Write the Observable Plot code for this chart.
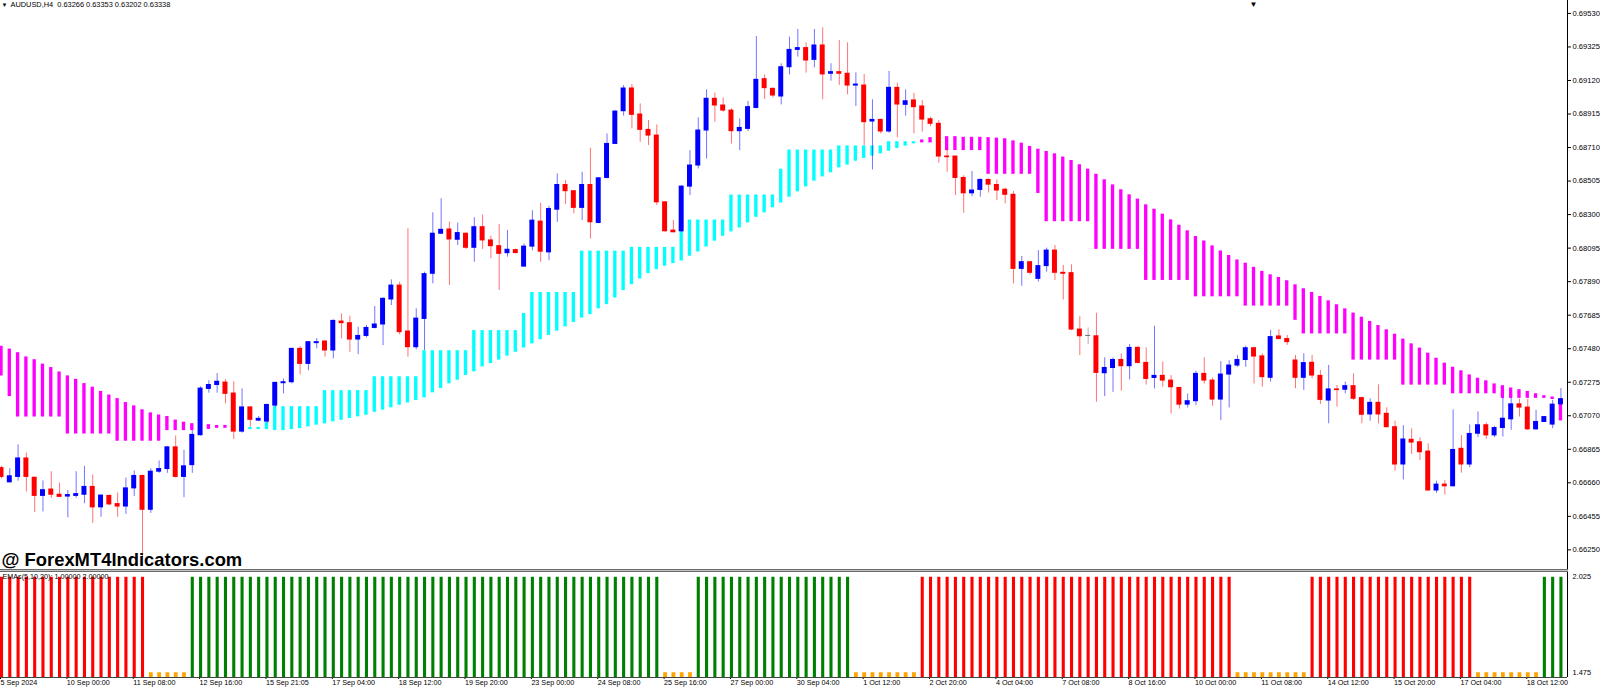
<!DOCTYPE html>
<html><head><meta charset="utf-8">
<script src="https://cdn.jsdelivr.net/npm/d3@7"></script>
<script src="https://cdn.jsdelivr.net/npm/@observablehq/plot@0.6"></script>
<style>
html,body{margin:0;padding:0;background:#fff;}
#wrap{position:relative;width:1600px;height:688px;overflow:hidden;background:#fff;}
svg{display:block;}
.sep{width:1568px;height:3px;background:linear-gradient(#6a6a6a 0 1px,#c4c4c4 1px 2px,#6a6a6a 2px 3px);}
</style></head><body><div id="wrap"></div>
<script>
const open=[0.66750,0.66663,0.66696,0.66809,0.66691,0.66580,0.66619,0.66587,0.66576,0.66580,
0.66587,0.66635,0.66510,0.66580,0.66530,0.66515,0.66626,0.66702,0.66495,0.66728,
0.66744,0.66877,0.66696,0.66768,0.66951,0.67234,0.67258,0.67273,0.67206,0.66973,
0.67121,0.67040,0.67034,0.67132,0.67269,0.67275,0.67479,0.67387,0.67514,0.67524,
0.67469,0.67646,0.67636,0.67536,0.67558,0.67607,0.67628,0.67781,0.67866,0.67585,
0.67489,0.67662,0.67938,0.68183,0.68209,0.68146,0.68183,0.68097,0.68223,0.68142,
0.68107,0.68064,0.68083,0.67982,0.68104,0.68257,0.68069,0.68330,0.68481,0.68443,
0.68341,0.68481,0.68249,0.68524,0.68732,0.68932,0.69071,0.68912,0.68818,0.68783,
0.68375,0.68202,0.68198,0.68471,0.68600,0.68814,0.69008,0.68967,0.68936,0.68810,
0.68824,0.68952,0.69128,0.69069,0.69022,0.69201,0.69307,0.69318,0.69246,0.69334,
0.69161,0.69171,0.69161,0.69089,0.69089,0.68869,0.68879,0.68808,0.69075,0.68971,
0.68998,0.68961,0.68883,0.68855,0.68655,0.68655,0.68524,0.68430,0.68451,0.68512,
0.68481,0.68452,0.68421,0.67968,0.68009,0.67907,0.67985,0.68080,0.67944,0.67942,
0.67597,0.67558,0.67556,0.67330,0.67362,0.67411,0.67373,0.67485,0.67393,0.67301,
0.67314,0.67285,0.67240,0.67138,0.67159,0.67326,0.67285,0.67169,0.67322,0.67377,
0.67411,0.67483,0.67433,0.67302,0.67555,0.67539,0.67408,0.67302,0.67394,0.67314,
0.67163,0.67231,0.67229,0.67251,0.67178,0.67078,0.67149,0.67082,0.67000,0.66772,
0.66923,0.66908,0.66851,0.66613,0.66649,0.66639,0.66868,0.66772,0.66960,0.67012,
0.66950,0.66995,0.67048,0.67140,0.67120,0.66987,0.67032,0.67016,0.67140];
const high=[0.66761,0.66746,0.66892,0.66842,0.66695,0.66672,0.66728,0.66659,0.66613,0.66728,
0.66761,0.66707,0.66585,0.66585,0.66598,0.66689,0.66733,0.66707,0.66746,0.66794,
0.66881,0.66946,0.66859,0.66979,0.67247,0.67284,0.67328,0.67291,0.67278,0.67234,
0.67125,0.67066,0.67142,0.67275,0.67295,0.67483,0.67493,0.67524,0.67542,0.67528,
0.67656,0.67693,0.67679,0.67611,0.67622,0.67738,0.67791,0.67901,0.67887,0.68213,
0.67724,0.67948,0.68311,0.68397,0.68254,0.68248,0.68187,0.68281,0.68297,0.68168,
0.68240,0.68203,0.68090,0.68120,0.68324,0.68369,0.68351,0.68549,0.68508,0.68447,
0.68559,0.68706,0.68526,0.68793,0.68934,0.69089,0.69095,0.68977,0.68875,0.68848,
0.68379,0.68263,0.68477,0.68691,0.68891,0.69063,0.69044,0.69014,0.68946,0.68885,
0.68991,0.69389,0.69154,0.69073,0.69222,0.69385,0.69432,0.69350,0.69432,0.69442,
0.69222,0.69365,0.69350,0.69167,0.69157,0.69002,0.68883,0.69175,0.69103,0.69063,
0.69042,0.68998,0.68895,0.68875,0.68702,0.68656,0.68538,0.68563,0.68518,0.68518,
0.68512,0.68462,0.68441,0.68044,0.68012,0.68080,0.68095,0.68111,0.67989,0.67993,
0.67676,0.67607,0.67697,0.67424,0.67424,0.67448,0.67505,0.67495,0.67485,0.67617,
0.67399,0.67316,0.67244,0.67203,0.67342,0.67424,0.67301,0.67401,0.67407,0.67438,
0.67495,0.67489,0.67449,0.67592,0.67596,0.67561,0.67439,0.67449,0.67439,0.67347,
0.67378,0.67255,0.67276,0.67327,0.67184,0.67174,0.67259,0.67119,0.67037,0.67010,
0.66990,0.66935,0.66898,0.66670,0.66674,0.67106,0.66949,0.67014,0.67093,0.67026,
0.67005,0.67181,0.67179,0.67171,0.67171,0.67103,0.67066,0.67164,0.67236];
const low=[0.66685,0.66659,0.66670,0.66604,0.66478,0.66482,0.66565,0.66569,0.66445,0.66565,
0.66532,0.66412,0.66449,0.66521,0.66449,0.66467,0.66576,0.66205,0.66473,0.66718,
0.66718,0.66690,0.66569,0.66718,0.66946,0.67208,0.67208,0.67143,0.66925,0.66964,
0.67001,0.67034,0.67024,0.67122,0.67203,0.67265,0.67320,0.67346,0.67479,0.67428,
0.67418,0.67540,0.67458,0.67444,0.67546,0.67601,0.67499,0.67744,0.67564,0.67428,
0.67473,0.67469,0.67877,0.68179,0.67866,0.68111,0.68087,0.68009,0.68087,0.68030,
0.67836,0.68040,0.68059,0.67977,0.68079,0.68008,0.68018,0.68253,0.68361,0.68304,
0.68263,0.68151,0.68243,0.68518,0.68728,0.68902,0.68824,0.68742,0.68722,0.68355,
0.68192,0.68188,0.68192,0.68416,0.68579,0.68640,0.68865,0.68926,0.68732,0.68691,
0.68808,0.68946,0.69004,0.69014,0.68971,0.69154,0.69263,0.69165,0.69197,0.69002,
0.69116,0.69089,0.69032,0.68961,0.68722,0.68573,0.68793,0.68797,0.68769,0.68902,
0.68793,0.68804,0.68838,0.68614,0.68559,0.68416,0.68308,0.68410,0.68406,0.68432,
0.68385,0.68366,0.67876,0.67862,0.67931,0.67887,0.67948,0.67897,0.67778,0.67591,
0.67438,0.67505,0.67152,0.67187,0.67213,0.67220,0.67289,0.67387,0.67258,0.67234,
0.67244,0.67081,0.67111,0.67118,0.67132,0.67264,0.67128,0.67040,0.67118,0.67366,
0.67366,0.67264,0.67245,0.67276,0.67535,0.67500,0.67235,0.67225,0.67296,0.67139,
0.67021,0.67123,0.67204,0.67163,0.67021,0.67037,0.67021,0.66996,0.66731,0.66678,
0.66833,0.66796,0.66609,0.66596,0.66586,0.66633,0.66719,0.66752,0.66936,0.66926,
0.66936,0.66940,0.66981,0.67062,0.66981,0.66981,0.67028,0.66991,0.67134];
const close=[0.66696,0.66700,0.66809,0.66696,0.66580,0.66615,0.66587,0.66574,0.66585,0.66591,
0.66635,0.66510,0.66582,0.66528,0.66515,0.66626,0.66702,0.66495,0.66728,0.66744,
0.66877,0.66696,0.66761,0.66953,0.67236,0.67258,0.67278,0.67204,0.66973,0.67121,
0.67045,0.67051,0.67136,0.67271,0.67275,0.67479,0.67387,0.67520,0.67520,0.67469,
0.67650,0.67636,0.67536,0.67558,0.67607,0.67628,0.67785,0.67866,0.67581,0.67489,
0.67664,0.67936,0.68183,0.68207,0.68148,0.68187,0.68097,0.68223,0.68142,0.68107,
0.68060,0.68085,0.68065,0.68104,0.68263,0.68073,0.68334,0.68481,0.68443,0.68341,
0.68481,0.68253,0.68522,0.68732,0.68930,0.69071,0.68910,0.68818,0.68783,0.68375,
0.68198,0.68192,0.68471,0.68600,0.68814,0.69008,0.68967,0.68936,0.68810,0.68830,
0.68957,0.69124,0.69073,0.69028,0.69201,0.69307,0.69318,0.69242,0.69334,0.69157,
0.69171,0.69161,0.69089,0.69095,0.68865,0.68879,0.68808,0.69075,0.68973,0.68993,
0.68957,0.68881,0.68855,0.68655,0.68651,0.68524,0.68430,0.68447,0.68512,0.68483,
0.68447,0.68421,0.67968,0.68009,0.67944,0.67985,0.68080,0.67944,0.67938,0.67597,
0.67556,0.67558,0.67332,0.67362,0.67411,0.67373,0.67485,0.67393,0.67295,0.67314,
0.67285,0.67244,0.67138,0.67159,0.67326,0.67285,0.67169,0.67322,0.67377,0.67411,
0.67483,0.67432,0.67306,0.67551,0.67539,0.67520,0.67302,0.67392,0.67316,0.67167,
0.67231,0.67227,0.67251,0.67174,0.67076,0.67149,0.67078,0.67000,0.66772,0.66925,
0.66906,0.66847,0.66613,0.66649,0.66639,0.66861,0.66772,0.66959,0.67012,0.66950,
0.66995,0.67052,0.67140,0.67120,0.66987,0.67032,0.67062,0.67138,0.67171];
const emaSmooth=[0.67491,0.67474,0.67452,0.67426,0.67409,0.67382,0.67361,0.67334,0.67310,0.67289,
0.67263,0.67241,0.67215,0.67193,0.67171,0.67147,0.67127,0.67103,0.67084,0.67071,
0.67062,0.67040,0.67027,0.67018,0.67016,0.67012,0.67007,0.67007,0.67001,0.67001,
0.66989,0.66989,0.66989,0.66983,0.66983,0.66989,0.66995,0.67006,0.67016,0.67024,
0.67036,0.67046,0.67057,0.67067,0.67077,0.67095,0.67108,0.67122,0.67138,0.67152,
0.67167,0.67183,0.67214,0.67240,0.67269,0.67291,0.67320,0.67342,0.67373,0.67393,
0.67414,0.67438,0.67462,0.67488,0.67513,0.67539,0.67565,0.67591,0.67617,0.67644,
0.67671,0.67692,0.67727,0.67753,0.67794,0.67839,0.67875,0.67910,0.67943,0.67967,
0.67988,0.68004,0.68020,0.68049,0.68075,0.68106,0.68141,0.68171,0.68198,0.68222,
0.68253,0.68287,0.68314,0.68345,0.68375,0.68410,0.68443,0.68473,0.68508,0.68534,
0.68559,0.68589,0.68606,0.68630,0.68647,0.68661,0.68675,0.68691,0.68708,0.68722,
0.68736,0.68753,0.68767,0.68773,0.68773,0.68773,0.68769,0.68769,0.68769,0.68767,
0.68764,0.68760,0.68747,0.68733,0.68713,0.68696,0.68682,0.68668,0.68648,0.68627,
0.68601,0.68574,0.68543,0.68509,0.68478,0.68448,0.68417,0.68391,0.68356,0.68329,
0.68299,0.68264,0.68231,0.68197,0.68162,0.68135,0.68105,0.68074,0.68046,0.68019,
0.67999,0.67974,0.67949,0.67928,0.67912,0.67892,0.67867,0.67843,0.67820,0.67796,
0.67769,0.67745,0.67720,0.67694,0.67669,0.67643,0.67618,0.67592,0.67565,0.67535,
0.67506,0.67480,0.67449,0.67418,0.67388,0.67363,0.67341,0.67316,0.67296,0.67280,
0.67261,0.67250,0.67236,0.67226,0.67215,0.67201,0.67189,0.67181,0.67171];
const emaStep=[0.67317,0.67191,0.67066,0.67066,0.67066,0.67066,0.67066,0.67066,0.66962,0.66962,
0.66962,0.66962,0.66962,0.66962,0.66918,0.66918,0.66918,0.66918,0.66918,0.66918,
0.66983,0.66983,0.66983,0.66983,0.66983,0.66990,0.66997,0.66997,0.66996,0.66997,
0.66995,0.66995,0.67024,0.67122,0.67122,0.67122,0.67122,0.67122,0.67122,0.67220,
0.67220,0.67220,0.67220,0.67220,0.67220,0.67305,0.67305,0.67305,0.67305,0.67305,
0.67305,0.67464,0.67464,0.67464,0.67464,0.67464,0.67464,0.67587,0.67587,0.67587,
0.67587,0.67587,0.67587,0.67692,0.67820,0.67820,0.67820,0.67820,0.67820,0.67820,
0.68073,0.68073,0.68073,0.68073,0.68073,0.68073,0.68096,0.68096,0.68096,0.68096,
0.68096,0.68096,0.68263,0.68263,0.68263,0.68263,0.68263,0.68263,0.68416,0.68416,
0.68416,0.68416,0.68416,0.68416,0.68573,0.68691,0.68691,0.68691,0.68691,0.68691,
0.68691,0.68716,0.68716,0.68716,0.68716,0.68716,0.68716,0.68742,0.68742,0.68742,
0.68742,0.68742,0.68742,0.68695,0.68695,0.68695,0.68695,0.68695,0.68695,0.68550,
0.68550,0.68550,0.68550,0.68550,0.68550,0.68433,0.68260,0.68260,0.68260,0.68260,
0.68260,0.68260,0.68091,0.68091,0.68091,0.68091,0.68091,0.68091,0.67901,0.67901,
0.67901,0.67901,0.67901,0.67901,0.67801,0.67801,0.67801,0.67801,0.67801,0.67801,
0.67744,0.67744,0.67744,0.67744,0.67744,0.67744,0.67657,0.67574,0.67574,0.67574,
0.67574,0.67574,0.67574,0.67414,0.67414,0.67414,0.67414,0.67414,0.67414,0.67261,
0.67261,0.67261,0.67261,0.67261,0.67261,0.67208,0.67208,0.67208,0.67208,0.67208,
0.67208,0.67180,0.67180,0.67180,0.67180,0.67180,0.67180,0.67173,0.67042];
// lower window: runs of [signal value, colour name, bar count]
const histRuns=[[2,"red",18],[1.5,"orange",5],[2,"green",57],[1.5,"orange",4],[2,"green",19],
[1.5,"orange",8],[2,"red",38],[1.5,"orange",9],[2,"red",20],[1.5,"orange",8],[2,"green",3]];
const timeLabels=["5 Sep 2024","10 Sep 00:00","11 Sep 08:00","12 Sep 16:00","15 Sep 21:05","17 Sep 04:00",
"18 Sep 12:00","19 Sep 20:00","23 Sep 00:00","24 Sep 08:00","25 Sep 16:00","27 Sep 00:00","30 Sep 04:00",
"1 Oct 12:00","2 Oct 20:00","4 Oct 04:00","7 Oct 08:00","8 Oct 16:00","10 Oct 00:00","11 Oct 08:00",
"14 Oct 12:00","15 Oct 20:00","17 Oct 04:00","18 Oct 12:00"];
const timeLabelBars=[0,8,16,24,32,40,48,56,64,72,80,88,96,104,112,120,128,136,144,152,160,168,176,184];
const priceTicks=[0.69530,0.69325,0.69120,0.68915,0.68710,0.68505,0.68300,0.68095,0.67890,0.67685,
0.67480,0.67275,0.67070,0.66865,0.66660,0.66455,0.66250];
const lowerTicks=[2.025,1.475];
const headerText="AUDUSD,H4  0.63266 0.63353 0.63202 0.63338";
const indicatorText="EMAs(5,10,20): 1.00000 2.00000";
const watermark="@ ForexMT4Indicators.com";

const colorMap={red:"#ff0000",green:"#008000",orange:"#ffa500"};
const bars=open.map((o,i)=>({i,o,h:high[i],l:low[i],c:close[i],
  col: close[i]>o ? "#0000ff" : close[i]<o ? "#ff0000" : "#6e6e6e"}));
const ind=emaSmooth.map((s,i)=>({i,s,t:emaStep[i],col: s>emaStep[i] ? "#ff00ff" : "#00ffff"}));
const hist=[]; {let k=0; for(const [v,c,n] of histRuns){for(let j=0;j<n;j++) hist.push({i:k++,v,col:colorMap[c],c});}}
const labelMap=new Map(timeLabelBars.map((b,j)=>[b,timeLabels[j]]));

const xDomain=[-0.1206,188.79];
const font="'Liberation Sans', Arial, sans-serif";
const wrap=document.getElementById("wrap");

const main=Plot.plot({
  width:1600,height:569,marginLeft:0,marginRight:33,marginTop:0,marginBottom:0,
  x:{domain:xDomain,axis:null,label:null},
  y:{domain:[0.66130,0.69609],axis:null,label:null},
  color:{type:"identity"},
  style:{fontFamily:font,background:"#fff",color:"#000"},
  marks:[
    Plot.rect(ind,{x1:d=>d.i-0.2,x2:d=>d.i+0.2,y1:"s",y2:"t",fill:"col",insetTop:-0.6,insetBottom:-0.6}),
    Plot.ruleX(bars,{x:"i",y1:"l",y2:"h",stroke:"col",strokeOpacity:0.55,strokeWidth:1}),
    Plot.rect(bars,{x1:d=>d.i-0.3,x2:d=>d.i+0.3,y1:"o",y2:"c",fill:"col",insetTop:-0.5,insetBottom:-0.5}),
    Plot.axisY({anchor:"right",label:null,ticks:priceTicks,tickFormat:d=>d.toFixed(5),tickSize:3,tickPadding:2,fontSize:7.6,fill:"#000",stroke:"#000"}),
    Plot.ruleX([xDomain[1]],{stroke:"#000"}),
    Plot.text(["\u25BC"],{frameAnchor:"top-left",dx:1,dy:2,fontSize:6,lineAnchor:"top",textAnchor:"start",fill:"#000"}),
    Plot.text([headerText],{frameAnchor:"top-left",dx:10,dy:1.5,fontSize:7.4,lineAnchor:"top",textAnchor:"start",fill:"#000"}),
    Plot.text(["\u25BC"],{frameAnchor:"top-left",dx:1249,dy:1,fontSize:8,lineAnchor:"top",textAnchor:"start",fill:"#000"}),
    Plot.text([watermark],{frameAnchor:"bottom-left",dx:1,dy:-4,fontSize:18.4,fontWeight:"bold",lineAnchor:"bottom",textAnchor:"start",fill:"#000"})
  ]
});
wrap.appendChild(main);
const sep=document.createElement("div"); sep.className="sep"; wrap.appendChild(sep);

const lower=Plot.plot({
  width:1600,height:116,marginLeft:0,marginRight:33,marginTop:0,marginBottom:11,
  x:{domain:xDomain,axis:null,label:null},
  y:{domain:[1.475,2.025],axis:null,label:null},
  color:{type:"identity"},
  style:{fontFamily:font,background:"#fff",color:"#000"},
  marks:[
    Plot.ruleX(hist.filter(d=>d.c!=="orange"),{x:"i",y1:1.475,y2:"v",stroke:"col",strokeWidth:3.1}),
    Plot.ruleX(hist.filter(d=>d.c==="orange"),{x:"i",y1:1.475,y2:"v",stroke:"col",strokeWidth:3.8}),
    Plot.text([indicatorText],{frameAnchor:"top-left",dx:2,dy:1,fontSize:7.2,lineAnchor:"top",textAnchor:"start",fill:"#000"}),
    Plot.axisY({anchor:"right",label:null,ticks:[lowerTicks[0]],tickFormat:d=>d.toFixed(3),tickSize:0,tickPadding:5,dy:4,fontSize:7.4,fill:"#000"}),
    Plot.axisY({anchor:"right",label:null,ticks:[lowerTicks[1]],tickFormat:d=>d.toFixed(3),tickSize:0,tickPadding:5,dy:-5,fontSize:7.4,fill:"#000"}),
    Plot.axisX({anchor:"bottom",label:null,ticks:timeLabelBars,tickFormat:d=>labelMap.get(d),tickSize:2,tickPadding:0,textAnchor:"start",dx:-1,fontSize:7.2,fill:"#000",stroke:"#000"}),
    Plot.ruleX([xDomain[1]],{stroke:"#000"}),
    Plot.ruleY([lowerTicks[1]],{stroke:"#444",strokeWidth:1})
  ]
});
wrap.appendChild(lower);
</script></body></html>
